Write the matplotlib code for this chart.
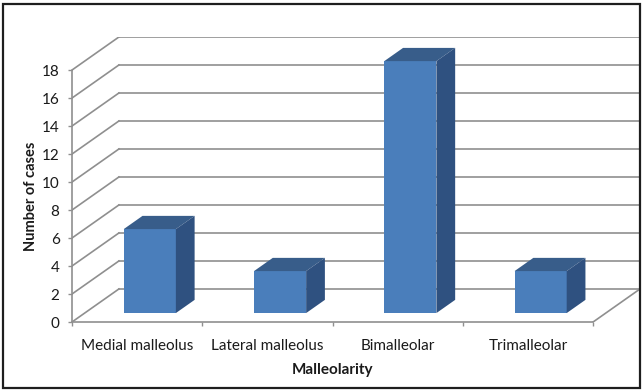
import matplotlib
matplotlib.use("Agg")
import matplotlib.pyplot as plt
from matplotlib.patches import Polygon, Rectangle
import numpy as np

# Case counts per fracture type
categories = ["Medial malleolus", "Lateral malleolus", "Bimalleolar", "Trimalleolar"]
cases = [6, 3, 18, 3]
y_ticks = [0, 2, 4, 6, 8, 10, 12, 14, 16, 18]

# oblique depth of the 3-D box in data units (x: categories, y: cases)
DX = 0.36
DY = 2.36
# bar depth span as fractions of the box depth, and bar width
F0, F1 = 0.27, 0.67
BAR_W = 0.40

FRONT = "#4a7ebb"
TOP = "#385d8a"
SIDE = "#2f5180"
GRID = "#8f8f8f"
TXT = "#1a1a1a"

plt.rcParams["font.family"] = ["Lato", "DejaVu Sans"]

W, H = 643, 391
fig = plt.figure(figsize=(W / 100, H / 100), dpi=100)

# axes placed so the front floor runs x=72..593 px and 14 px per case
x0_px, x1_px = 72, 593 + 47
y0_px, ytop_px = 322, 37
ax = fig.add_axes([x0_px / W, (H - y0_px) / H, (x1_px - x0_px) / W, (y0_px - ytop_px) / H])
ax.set_xlim(-0.5, 3.5 + DX)
ax.set_ylim(0, 18 + DY)
ax.patch.set_alpha(0)

n = len(categories)
left, right = -0.5, n - 0.5

# walls: back gridlines plus diagonals on the side wall
for v in y_ticks:
    ax.plot([left + DX, right + DX], [v + DY, v + DY], color=GRID, lw=1.2, zorder=1)
    ax.plot([left, left + DX], [v, v + DY], color=GRID, lw=1.2, zorder=1)
# right edge of the floor
ax.plot([right, right + DX], [0, DY], color=GRID, lw=1.2, zorder=1)

# bars: front face via ax.bar, top and side faces as polygons
xs = np.arange(n)
fx = xs + DX * F0
ax.bar(fx, cases, width=BAR_W, bottom=DY * F0, color=FRONT, zorder=3, linewidth=0)
for x, v in zip(fx, cases):
    xl, xr = x - BAR_W / 2, x + BAR_W / 2
    yb, yt = DY * F0, DY * F0 + v
    ddx, ddy = DX * (F1 - F0), DY * (F1 - F0)
    ax.add_patch(Polygon([(xl, yt), (xr, yt), (xr + ddx, yt + ddy), (xl + ddx, yt + ddy)],
                         closed=True, facecolor=TOP, edgecolor="none", zorder=3))
    ax.add_patch(Polygon([(xr, yb), (xr + ddx, yb + ddy), (xr + ddx, yt + ddy), (xr, yt)],
                         closed=True, facecolor=SIDE, edgecolor="none", zorder=3))

# axes: front vertical value axis and front floor edge
for s in ["top", "right"]:
    ax.spines[s].set_visible(False)
ax.spines["left"].set_position(("data", left))
ax.spines["left"].set_bounds(0, 18)
ax.spines["bottom"].set_bounds(left, right)
for s in ["left", "bottom"]:
    ax.spines[s].set_color(GRID)
    ax.spines[s].set_linewidth(1.2)
    ax.spines[s].set_zorder(2)

ax.set_yticks(y_ticks)
ax.set_yticklabels([str(t) for t in y_ticks])
ax.tick_params(axis="y", direction="out", length=3, width=1, color=GRID,
               labelsize=11, labelcolor=TXT, pad=6)

ax.set_xticks(xs)
ax.set_xticklabels(categories)
ax.set_xticks(np.arange(n + 1) - 0.5, minor=True)
ax.tick_params(axis="x", which="major", length=0, labelsize=11, labelcolor=TXT, pad=12)
ax.tick_params(axis="x", which="minor", direction="out", length=3, width=1, color=GRID)

# x title centred under the front floor edge
ax.set_xlabel("Malleolarity", fontsize=11, fontweight="bold", color=TXT)
ax.xaxis.set_label_coords((1.5 - left) / (4 + DX), -0.145)
ax.set_ylabel("Number of cases", fontsize=10.5, fontweight="bold", color=TXT)
ax.yaxis.set_label_coords(-0.06, (9 - 0) / (18 + DY))

# outer frame
fig.add_artist(Rectangle((3 / W, 3 / H), (W - 6) / W, (H - 7) / H, transform=fig.transFigure,
                         fill=False, edgecolor="#1e1e1e", linewidth=1.6))

fig.savefig("out.png", dpi=100, facecolor="white")
